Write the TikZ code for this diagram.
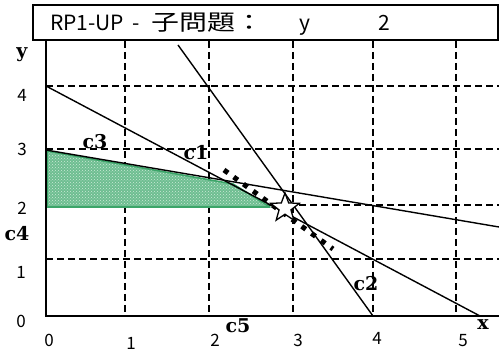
\documentclass[tikz,border=0pt]{standalone}
\usepackage{fontspec}
\usepackage{graphicx}
\usetikzlibrary{shapes.geometric,patterns}
\newfontfamily\cjk{Noto Sans CJK TC}
\newfontfamily\clabfont{DejaVu Serif}
\definecolor{shadegreen}{RGB}{110,190,145}
\definecolor{shadedots}{RGB}{205,235,215}
\definecolor{bordergreen}{RGB}{60,165,105}
\tikzset{
  gridline/.style={line width=1.3pt,dash pattern=on 7pt off 4pt},
  solidline/.style={line width=1.4pt},
  axisline/.style={line width=1.8pt},
  dotline/.style={line width=5pt,dash pattern=on 5pt off 7pt},
  numlab/.style={font=\cjk\fontsize{17}{17}\selectfont,inner sep=0pt},
  clab/.style={font=\clabfont\bfseries\fontsize{19}{19}\selectfont,inner sep=0pt},
  titlebox/.style={draw,line width=1.4pt,fill=white},
  starmark/.style={star,star points=5,star point ratio=2.4,minimum size=30pt,inner sep=0pt,draw,fill=white,line width=1.3pt}
}
\begin{document}
\begin{tikzpicture}[x=1pt,y=-1pt]
\useasboundingbox (0,0) rectangle (499,352);
% grid
\foreach \gx/\nm in {125/a,209/b,293/c,373/d,456/e}{
  \coordinate (vt\nm) at (\gx,41);
  \coordinate (vb\nm) at (\gx,316);
  \draw[gridline] (vt\nm) -- (vb\nm);
}
\foreach \gy/\nm in {86/a,149/b,205/c,259/d}{
  \coordinate (hl\nm) at (46,\gy);
  \coordinate (hr\nm) at (499,\gy);
  \draw[gridline] (hl\nm) -- (hr\nm);
}
% feasible region
\coordinate (p1) at (47,151);
\coordinate (p2) at (233,184);
\coordinate (p3) at (270,207);
\coordinate (p4) at (47,207);
\fill[shadegreen] (p1) -- (p2) -- (p3) -- (p4) -- cycle;
\fill[pattern=crosshatch dots,pattern color=shadedots] (p1) -- (p2) -- (p3) -- (p4) -- cycle;
\draw[bordergreen,line width=1.6pt,line join=round] (p1) -- (p2) -- (p3) -- (p4) -- cycle;
% constraint lines
\coordinate (c1a) at (46,86);
\coordinate (c1b) at (480,316);
\coordinate (c2a) at (178,45);
\coordinate (c2b) at (373,316);
\coordinate (c3a) at (46,150);
\coordinate (c3b) at (499,227);
\draw[solidline] (c1a) -- (c1b);
\draw[solidline] (c2a) -- (c2b);
\draw[solidline] (c3a) -- (c3b);
% axes
\coordinate (o) at (46,316);
\coordinate (ytop) at (46,40);
\coordinate (xend) at (499,316);
\draw[axisline] (ytop) -- (o) -- (xend);
% objective (dotted)
\coordinate (da) at (224,170);
\coordinate (db) at (333,249);
\draw[dotline] (da) -- (db);
% optimum star
\node[starmark] (opt) at (285,208) {};
% axis numbers
\node[numlab] (y4) at (22,95) {4};
\node[numlab] (y3) at (22,149) {3};
\node[numlab] (y2) at (22,208) {2};
\node[numlab] (y1) at (21,272) {1};
\node[numlab] (y0) at (21,321) {0};
\node[numlab] (x0) at (49,340) {0};
\node[numlab] (x1) at (131,343) {1};
\node[numlab] (x2) at (215,340) {2};
\node[numlab] (x3) at (298,340) {3};
\node[numlab] (x4) at (377,338) {4};
\node[numlab] (x5) at (463,341) {5};
% labels
\node[clab] (ylab) at (22,55) {y};
\node[clab] (xlab) at (483,325) {x};
\node[clab] (lc1) at (196,153) {c1};
\node[clab] (lc2) at (366,284) {c2};
\node[clab] (lc3) at (95,142) {c3};
\node[clab] (lc4) at (17,234) {c4};
\node[clab] (lc5) at (238,326) {c5};
% title
\coordinate (tb1) at (33,5);
\coordinate (tb2) at (498,40);
\draw[titlebox] (tb1) rectangle (tb2);
\node[font=\cjk\fontsize{21}{21}\selectfont,inner sep=0pt,anchor=base west] (title) at (50,31)
  {RP1-UP\hspace*{8pt}-\hspace*{12pt}\scalebox{1.27}[1]{\fontsize{22}{22}\selectfont 子問題：}\hspace*{36pt}y\hspace*{68pt}2};
\end{tikzpicture}
\end{document}
